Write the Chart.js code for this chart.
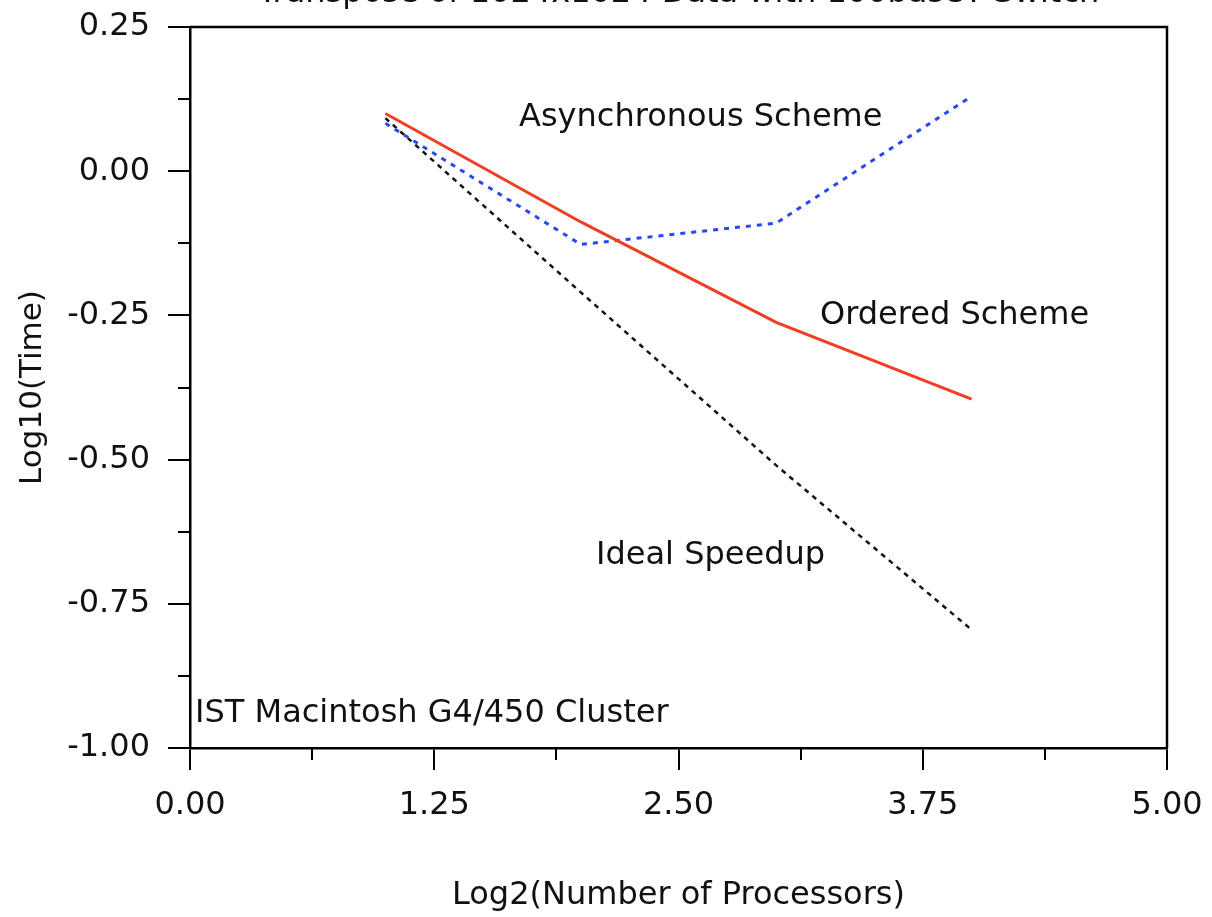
<!DOCTYPE html>
<html>
<head>
<meta charset="utf-8">
<script src="https://cdn.jsdelivr.net/npm/chart.js@4/dist/chart.umd.min.js"></script>
<style>
  html, body { margin: 0; padding: 0; background: #ffffff; }
  #wrap { width: 1212px; height: 917px; position: relative; }
</style>
</head>
<body>
<div id="wrap"><canvas id="c" width="1212" height="917"></canvas></div>
<script>
// ---- data ----
const log2Procs = [1, 2, 3, 4];
const orderedScheme = [0.100, -0.088, -0.262, -0.395];
const asyncScheme = [0.083, -0.127, -0.090, 0.130];
const idealSpeedup = [0.092, -0.210, -0.510, -0.795];

const xTicks = [0, 1.25, 2.5, 3.75, 5];
const yTicks = [0.25, 0, -0.25, -0.5, -0.75, -1];
const xMinorTicks = [0.625, 1.875, 3.125, 4.375];
const yMinorTicks = [0.125, -0.125, -0.375, -0.625, -0.875];

const chartTitle = 'Transpose of 1024x1024 Data with 100baseT Switch';
const xTitle = 'Log2(Number of Processors)';
const yTitle = 'Log10(Time)';
const annotations = [
  { text: 'Asynchronous Scheme', x: 1.684, y: 0.092 },
  { text: 'Ordered Scheme', x: 3.224, y: -0.250 },
  { text: 'Ideal Speedup', x: 2.078, y: -0.666 },
  { text: 'IST Macintosh G4/450 Cluster', x: 0.026, y: -0.940 }
];

const FONT = '"DejaVu Sans", sans-serif';

function pts(ys) { return log2Procs.map((x, i) => ({ x: x, y: ys[i] })); }

const extrasPlugin = {
  id: 'extras',
  afterDraw(chart) {
    const ctx = chart.ctx;
    const xs = chart.scales.x, ys = chart.scales.y;
    const a = chart.chartArea;
    ctx.save();
    // frame top & right
    ctx.strokeStyle = '#000';
    ctx.lineWidth = 2.5;
    ctx.beginPath();
    ctx.moveTo(a.left, a.top); ctx.lineTo(a.right, a.top); ctx.lineTo(a.right, a.bottom);
    ctx.stroke();
    // minor ticks
    ctx.lineWidth = 2;
    ctx.beginPath();
    yMinorTicks.forEach(v => {
      const py = Math.round(ys.getPixelForValue(v));
      ctx.moveTo(a.left - 12, py); ctx.lineTo(a.left, py);
    });
    xMinorTicks.forEach(v => {
      const px = Math.round(xs.getPixelForValue(v));
      ctx.moveTo(px, a.bottom); ctx.lineTo(px, a.bottom + 12);
    });
    ctx.stroke();
    // annotations
    ctx.fillStyle = '#111';
    ctx.font = '32px ' + FONT;
    ctx.textAlign = 'left';
    ctx.textBaseline = 'middle';
    annotations.forEach(t => {
      ctx.fillText(t.text, xs.getPixelForValue(t.x), ys.getPixelForValue(t.y));
    });
    // title (cut off by top edge as in reference)
    ctx.textAlign = 'center';
    ctx.textBaseline = 'alphabetic';
    ctx.fillText(chartTitle, (a.left + a.right) / 2, 2);
    ctx.restore();
  }
};

new Chart(document.getElementById('c'), {
  type: 'line',
  data: {
    datasets: [
      {
        label: 'Ordered Scheme',
        data: pts(orderedScheme),
        borderColor: 'rgb(240,62,34)',
        borderWidth: 3,
        pointRadius: 0,
        tension: 0,
        fill: false
      },
      {
        label: 'Asynchronous Scheme',
        data: pts(asyncScheme),
        borderColor: 'rgb(40,72,240)',
        borderWidth: 3,
        borderDash: [5, 6],
        pointRadius: 0,
        tension: 0,
        fill: false
      },
      {
        label: 'Ideal Speedup',
        data: pts(idealSpeedup),
        borderColor: 'rgb(20,20,20)',
        borderWidth: 2.5,
        borderDash: [5, 5],
        pointRadius: 0,
        tension: 0,
        fill: false
      }
    ]
  },
  options: {
    responsive: false,
    animation: false,
    layout: { padding: { top: 27, right: 45, left: 0, bottom: 0 } },
    plugins: { legend: { display: false }, tooltip: { enabled: false }, title: { display: false } },
    scales: {
      x: {
        type: 'linear',
        min: 0, max: 5,
        afterFit(s) { s.height = 169; s.paddingLeft = 0; s.paddingRight = 0; },
        afterBuildTicks(s) { s.ticks = xTicks.map(v => ({ value: v })); },
        ticks: {
          color: '#111',
          font: { family: FONT, size: 32 },
          padding: 16,
          maxRotation: 0,
          autoSkip: false,
          callback: v => Number(v).toFixed(2)
        },
        grid: { drawOnChartArea: false, drawTicks: true, tickLength: 22, color: '#000', lineWidth: 2 },
        border: { display: true, color: '#000', width: 2.5 },
        title: {
          display: true, text: xTitle, color: '#111',
          font: { family: FONT, size: 32 }, padding: { top: 0, bottom: 2 }
        }
      },
      y: {
        type: 'linear',
        min: -1, max: 0.25,
        afterFit(s) { s.width = 190; s.paddingTop = 0; s.paddingBottom = 0; },
        afterBuildTicks(s) { s.ticks = yTicks.map(v => ({ value: v })); },
        ticks: {
          color: '#111',
          font: { family: FONT, size: 32 },
          padding: 18,
          autoSkip: false,
          callback: v => Number(v).toFixed(2)
        },
        grid: { drawOnChartArea: false, drawTicks: true, tickLength: 22, color: '#000', lineWidth: 2 },
        border: { display: true, color: '#000', width: 2.5 },
        title: {
          display: true, text: yTitle, color: '#111',
          font: { family: FONT, size: 31 }, padding: { top: 14, bottom: 0 }
        }
      }
    }
  },
  plugins: [extrasPlugin]
});
</script>
</body>
</html>
